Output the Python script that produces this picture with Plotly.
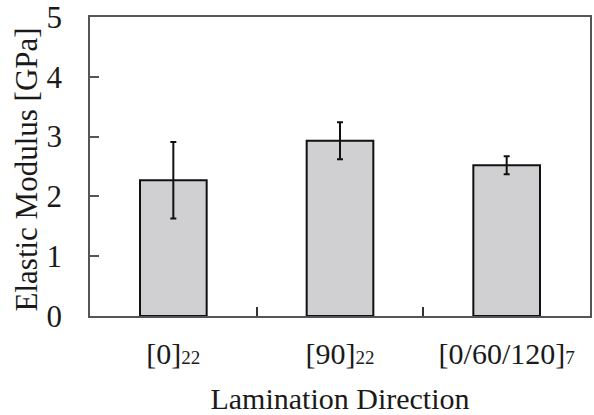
import plotly.graph_objects as go

categories = ["[0]<span style='font-size:19px'>22</span>",
              "[90]<span style='font-size:19px'>22</span>",
              "[0/60/120]<span style='font-size:19px'>7</span>"]
modulus = [2.27, 2.93, 2.52]
modulus_err = [0.64, 0.31, 0.15]
y_ticks = [0, 1, 2, 3, 4, 5]
y_title = "Elastic Modulus [GPa]"
x_title = "Lamination Direction"

font_family = "Liberation Serif"

fig = go.Figure()
fig.add_trace(go.Bar(
    x=categories,
    y=modulus,
    width=0.4,
    marker=dict(color="#d0cfd1", line=dict(color="#111111", width=2)),
    error_y=dict(type="data", array=modulus_err, visible=True,
                 color="#111111", thickness=2, width=3),
    showlegend=False,
))

fig.update_layout(
    width=594, height=415,
    margin=dict(l=90, r=4, t=17, b=99),
    paper_bgcolor="white", plot_bgcolor="white",
    font=dict(family=font_family, size=30, color="#1a1a1a"),
    bargap=0.6,
)
fig.update_xaxes(
    type="category", automargin=False,
    showline=True, mirror=True, linecolor="#555555", linewidth=1.5,
    ticks="inside", ticklen=9, tickwidth=1.5, tickcolor="#333333",
    tickson="boundaries", ticklabelstandoff=10,
    showgrid=False, zeroline=False,
    tickfont=dict(size=30, family=font_family),
    title=dict(text=x_title, font=dict(size=30, family=font_family), standoff=20),
)
fig.update_yaxes(
    range=[0, 5], tickvals=y_ticks, automargin=False,
    showline=True, mirror=True, linecolor="#555555", linewidth=1.5,
    ticks="inside", ticklen=9, tickwidth=1.5, tickcolor="#555555",
    ticklabelstandoff=20, ticklabeloverflow="allow",
    showgrid=False, zeroline=False,
    tickfont=dict(size=31, family=font_family),
)
fig.add_annotation(
    text=y_title, textangle=-90, showarrow=False,
    xref="paper", yref="paper", x=-0.128, y=0.49,
    xanchor="center", yanchor="middle",
    font=dict(size=31, family=font_family, color="#1a1a1a"),
)

fig.write_html(
    "out.html",
    config={"displayModeBar": False},
    post_script="document.body.style.margin='0';document.body.style.overflow='hidden';",
)
